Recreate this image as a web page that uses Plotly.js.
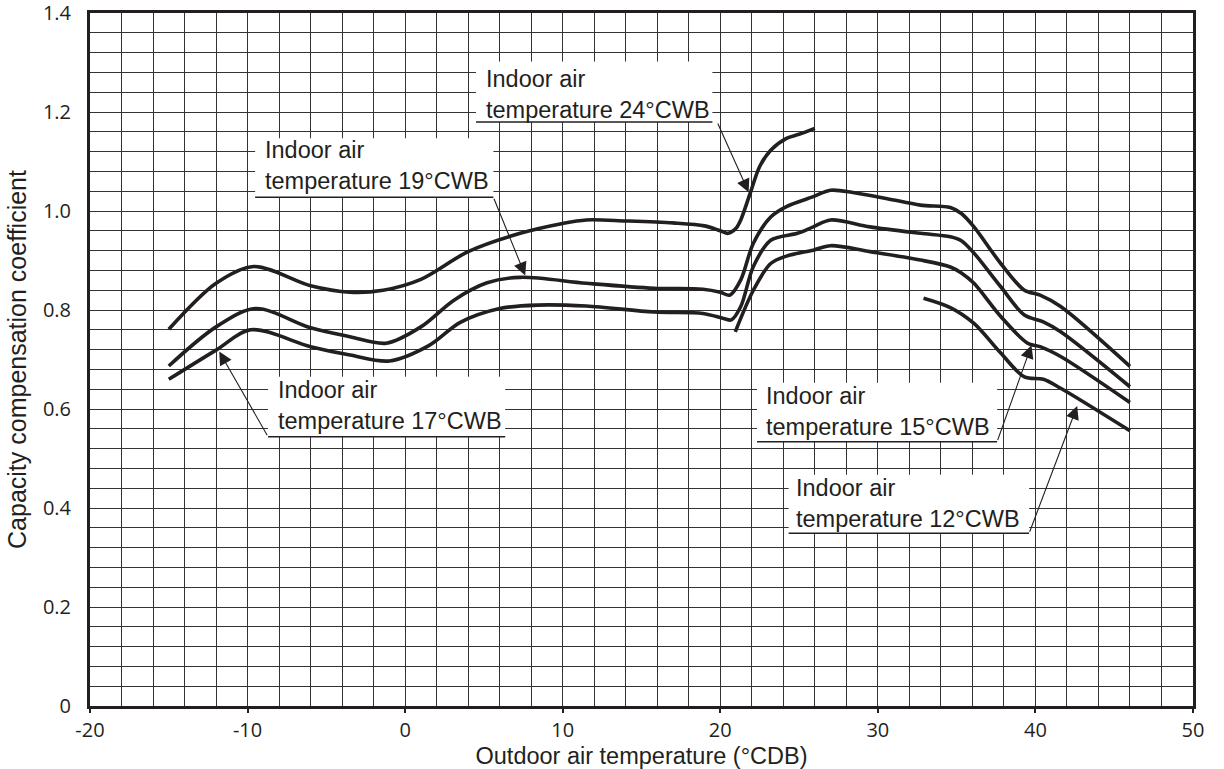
<!DOCTYPE html>
<html>
<head>
<meta charset="utf-8">
<script src="https://cdn.plot.ly/plotly-3.0.1.min.js"></script>
<style>
  html, body { margin: 0; padding: 0; background: #ffffff; }
  #chart { width: 1224px; height: 769px; }
</style>
</head>
<body>
<div id="chart"></div>
<script>
// ---- Data ----
// Outdoor air temperature (°CDB) vs capacity compensation coefficient
const seriesNames = ["24°CWB", "19°CWB", "17°CWB", "15°CWB", "12°CWB"];

const x24 = [-15, -12, -9.6, -6, -3.5, -1.4, 1, 4, 7.3, 10, 11.5, 14, 17, 19, 20, 20.5, 21, 21.3, 21.9, 22.5, 23.2, 24.2, 25, 26];
const y24 = [0.761, 0.854, 0.888, 0.849, 0.836, 0.840, 0.862, 0.918, 0.955, 0.975, 0.982, 0.980, 0.976, 0.970, 0.960, 0.955, 0.965, 0.982, 1.036, 1.090, 1.123, 1.147, 1.155, 1.167];

const x19 = [-15, -12, -9.5, -6, -3.5, -1.2, 1, 3.1, 5.2, 7.3, 11.5, 15.8, 18.9, 20.0, 20.6, 21.3, 22.1, 23.2, 24.2, 25.9, 27, 28.5, 30.6, 32.7, 34.6, 35.3, 36.1, 37.8, 39.3, 40.3, 41.6, 46];
const y19 = [0.687, 0.766, 0.803, 0.764, 0.746, 0.733, 0.766, 0.820, 0.855, 0.866, 0.854, 0.844, 0.842, 0.836, 0.830, 0.861, 0.935, 0.988, 1.009, 1.029, 1.042, 1.037, 1.025, 1.012, 1.007, 0.995, 0.968, 0.894, 0.840, 0.830, 0.807, 0.686];

const x17 = [-15, -12, -9.8, -6, -3.5, -1, 1.5, 3.5, 6, 8.4, 11.5, 15.8, 18.9, 20.2, 20.7, 21.3, 22.1, 23.2, 24.9, 25.9, 27, 29.5, 32.7, 34.6, 35.3, 36.1, 37.8, 39.3, 40.5, 41.6, 46];
const y17 = [0.660, 0.719, 0.760, 0.726, 0.709, 0.697, 0.728, 0.775, 0.803, 0.810, 0.808, 0.796, 0.793, 0.783, 0.780, 0.807, 0.888, 0.941, 0.955, 0.968, 0.982, 0.968, 0.955, 0.948, 0.940, 0.915, 0.847, 0.790, 0.776, 0.756, 0.645];

const x15 = [20.95, 22.1, 23.2, 24.2, 25.9, 27, 29.5, 32.7, 34.6, 35.3, 36.1, 37.8, 39.5, 40.3, 41.6, 46];
const y15 = [0.756, 0.840, 0.894, 0.909, 0.921, 0.930, 0.918, 0.901, 0.887, 0.875, 0.854, 0.787, 0.733, 0.726, 0.706, 0.613];

const x12 = [32.9, 34.6, 36.1, 37.8, 39.3, 40.5, 41.6, 46];
const y12 = [0.824, 0.805, 0.773, 0.713, 0.665, 0.660, 0.642, 0.556];

const xTickVals = [-20, -10, 0, 10, 20, 30, 40, 50];
const xTickText = ["-20", "-10", "0", "10", "20", "30", "40", "50"];
const yTickVals = [0, 0.2, 0.4, 0.6, 0.8, 1.0, 1.2, 1.4];
const yTickText = ["0", "0.2", "0.4", "0.6", "0.8", "1.0", "1.2", "1.4"];

const xTitle = "Outdoor air temperature (°CDB)";
const yTitle = "Capacity compensation coefficient";

// Label texts (callouts)
const labelTexts = seriesNames.map(n => "Indoor air<br>temperature " + n);

// ---- Styling / layout ----
const INK = "#231f20";
const GRID = "#333333";

const allX = [x24, x19, x17, x15, x12];
const allY = [y24, y19, y17, y15, y12];

const traces = allX.map((xs, i) => ({
  type: "scatter",
  mode: "lines",
  name: seriesNames[i],
  x: xs,
  y: allY[i],
  line: { color: INK, width: 3.6, shape: "spline", smoothing: 0.9 },
  hoverinfo: "x+y+name"
}));

// Callout geometry (data coordinates): box [x0,x1,y0,y1], text anchor, arrow tail and tip
const callouts = [
  { box: [4.5, 19.5, 1.180, 1.302], tx: 5.0, ty: 1.236, tail: [19.8, 1.180], tip: [21.8, 1.038] },   // 24
  { box: [-9.52, 5.6, 1.028, 1.147], tx: -9.05, ty: 1.091, tail: [5.6, 1.028], tip: [7.62, 0.870] }, // 19
  { box: [-8.7, 6.35, 0.544, 0.665], tx: -8.2, ty: 0.607, tail: [-8.7, 0.544], tip: [-11.8, 0.716] }, // 17
  { box: [22.33, 37.57, 0.534, 0.653], tx: 22.75, ty: 0.595, tail: [37.57, 0.534], tip: [39.75, 0.729] }, // 15
  { box: [24.34, 39.6, 0.349, 0.467], tx: 24.65, ty: 0.410, tail: [39.6, 0.349], tip: [42.65, 0.606] }  // 12
];

const shapes = [];
const annotations = [];
callouts.forEach((c, i) => {
  shapes.push({
    type: "rect", xref: "x", yref: "y", layer: "between",
    x0: c.box[0], x1: c.box[1], y0: c.box[2], y1: c.box[3],
    fillcolor: "#ffffff", line: { width: 0 }
  });
  shapes.push({
    type: "line", xref: "x", yref: "y", layer: "above",
    x0: c.box[0], x1: c.box[1], y0: c.box[2], y1: c.box[2],
    line: { color: INK, width: 1.5 }
  });
  annotations.push({
    xref: "x", yref: "y", x: c.tx, y: c.ty,
    xanchor: "left", yanchor: "middle", align: "left",
    text: labelTexts[i], showarrow: false,
    font: { family: "Liberation Sans, Arial, sans-serif", size: 23.5, color: INK }
  });
  annotations.push({
    xref: "x", yref: "y", axref: "x", ayref: "y",
    x: c.tip[0], y: c.tip[1], ax: c.tail[0], ay: c.tail[1],
    text: "", showarrow: true, arrowhead: 2, arrowsize: 2.4, arrowwidth: 1.1,
    arrowcolor: INK, standoff: 0, startstandoff: 0
  });
});

const layout = {
  width: 1224, height: 769,
  margin: { l: 90, r: 31, t: 13, b: 63, pad: 0 },
  paper_bgcolor: "#ffffff", plot_bgcolor: "#ffffff",
  showlegend: false,
  font: { family: "Open Sans, Liberation Sans, sans-serif", color: INK },
  xaxis: {
    range: [-20, 50.0001], tickmode: "array", tickvals: xTickVals, ticktext: xTickText,
    showgrid: true, gridcolor: GRID, gridwidth: 1,
    minor: { tickmode: "linear", tick0: 0, dtick: 2, showgrid: true, gridcolor: GRID, gridwidth: 1, ticks: "" },
    zeroline: false,
    showline: true, mirror: true, linecolor: INK, linewidth: 3,
    ticks: "outside", ticklen: 4, tickwidth: 2, tickcolor: INK,
    ticklabeloverflow: "allow",
    tickfont: { family: "Open Sans, sans-serif", size: 20, color: INK },
    title: { text: xTitle, standoff: 2, font: { family: "Liberation Sans, Arial, sans-serif", size: 23.5, color: INK } }
  },
  yaxis: {
    range: [0, 1.4001], tickmode: "array", tickvals: yTickVals, ticktext: yTickText,
    showgrid: true, gridcolor: GRID, gridwidth: 1,
    minor: { tickmode: "linear", tick0: 0, dtick: 0.04, showgrid: true, gridcolor: GRID, gridwidth: 1, ticks: "" },
    zeroline: false,
    showline: true, mirror: true, linecolor: INK, linewidth: 3,
    ticks: "", ticklabelstandoff: 12, ticklabeloverflow: "allow",
    tickfont: { family: "Open Sans, sans-serif", size: 20, color: INK },
    title: { text: yTitle, standoff: 10, font: { family: "Liberation Sans, Arial, sans-serif", size: 25, color: INK } }
  },
  shapes: shapes,
  annotations: annotations
};

Plotly.newPlot("chart", traces, layout, { displayModeBar: false, staticPlot: true });
</script>
</body>
</html>
